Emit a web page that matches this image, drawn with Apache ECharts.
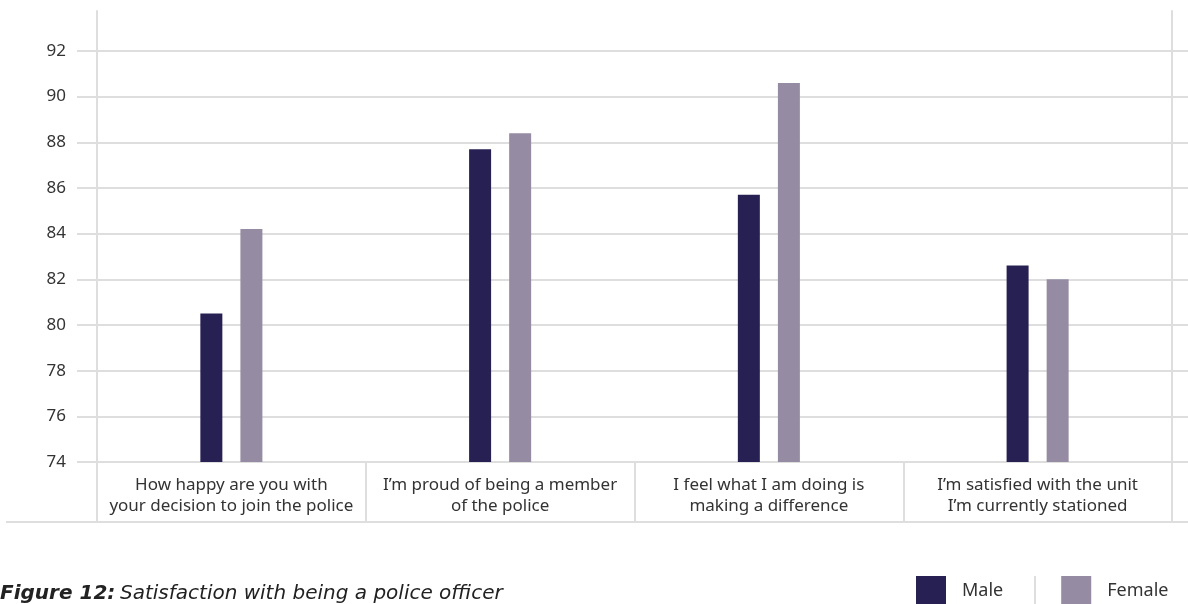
<!DOCTYPE html>
<html>
<head>
<meta charset="utf-8">
<script src="https://cdn.jsdelivr.net/npm/echarts@6/dist/echarts.min.js"></script>
<style>html,body{margin:0;padding:0;background:#fff}#c{width:1188px;height:604px}</style>
</head>
<body>
<div id="c"></div>
<script>
const categories = [
  "How happy are you with\nyour decision to join the police",
  "I\u2019m proud of being a member\nof the police",
  "I feel what I am doing is\nmaking a difference",
  "I\u2019m satisfied with the unit\nI\u2019m currently stationed"
];
const maleValues = [80.5, 87.7, 85.7, 82.6];
const femaleValues = [84.2, 88.4, 90.6, 82.0];
const yTickValues = [74, 76, 78, 80, 82, 84, 86, 88, 90, 92];
const seriesNames = ["Male", "Female"];

const FONT = "'Noto Sans', sans-serif";
const WIDE = "'DejaVu Sans', sans-serif";
const LINE = '#dedede';
const chart = echarts.init(document.getElementById('c'), null, {renderer: 'canvas'});
chart.setOption({
  animation: false,
  textStyle: {fontFamily: FONT},
  title: {
    left: 0, top: 584, padding: 0,
    text: '{b|Figure 12:} {i|Satisfaction with being a police officer}',
    textStyle: {
      rich: {
        b: {fontFamily: WIDE, fontSize: 20, fontStyle: 'italic', fontWeight: 'bold', color: '#222'},
        i: {fontFamily: WIDE, fontSize: 20, fontStyle: 'italic', fontWeight: 'normal', color: '#222'}
      }
    }
  },
  legend: {
    left: 916, top: 576, padding: 0,
    itemWidth: 30, itemHeight: 30, itemGap: 58,
    icon: 'rect',
    data: seriesNames,
    textStyle: {fontFamily: FONT, fontSize: 18, color: '#333', padding: [4, 0, 0, 11]}
  },
  grid: {left: 97, right: 16, top: 11, bottom: 142, containLabel: false},
  xAxis: {
    type: 'category',
    data: categories,
    axisLine: {show: true, lineStyle: {color: LINE, width: 2}},
    axisTick: {show: true, length: 60, lineStyle: {color: LINE, width: 2}},
    axisLabel: {interval: 0, fontFamily: FONT, fontSize: 17, color: '#333', lineHeight: 21, margin: 13}
  },
  yAxis: [{
    type: 'value', min: 74, max: 93.75, interval: 2,
    axisLine: {show: true, lineStyle: {color: LINE, width: 2}},
    axisTick: {show: true, length: 20, customValues: yTickValues, lineStyle: {color: LINE, width: 2}},
    axisLabel: {customValues: yTickValues, fontFamily: FONT, fontSize: 17, color: '#333', margin: 31},
    splitLine: {show: true, lineStyle: {color: LINE, width: 2}}
  }, {
    type: 'value', min: 74, max: 93.75, interval: 2, position: 'right',
    axisLine: {show: true, lineStyle: {color: LINE, width: 2}},
    axisTick: {show: true, length: 16, customValues: yTickValues, lineStyle: {color: LINE, width: 2}},
    axisLabel: {show: false},
    splitLine: {show: false}
  }],
  series: [{
    name: seriesNames[0], type: 'bar', data: maleValues,
    barWidth: 22, barGap: '82%',
    itemStyle: {color: '#272053'}
  }, {
    name: seriesNames[1], type: 'bar', data: femaleValues,
    barWidth: 22,
    itemStyle: {color: '#958ca4'}
  }],
  graphic: [
    {type: 'line', shape: {x1: 6, y1: 522, x2: 1188, y2: 522}, style: {stroke: LINE, lineWidth: 2}, silent: true},
    {type: 'line', shape: {x1: 1035, y1: 576, x2: 1035, y2: 604}, style: {stroke: LINE, lineWidth: 2}, silent: true}
  ]
});
</script>
</body>
</html>
